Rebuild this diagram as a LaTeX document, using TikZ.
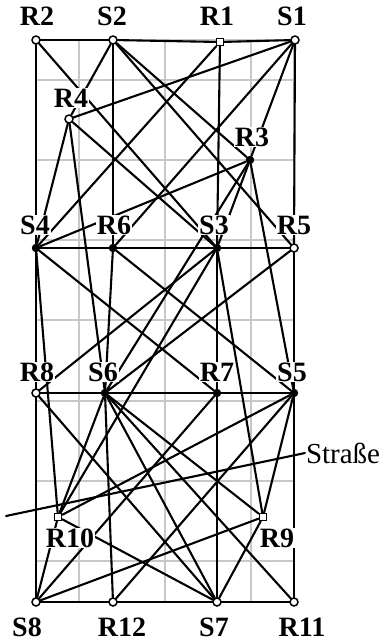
\documentclass[tikz,border=0pt]{standalone}
\usepackage{fontspec}
\setmainfont{Liberation Serif}
\definecolor{gridline}{HTML}{C8C8C8}
\definecolor{ink}{HTML}{000000}

\begin{document}
\begin{tikzpicture}[x=1pt,y=-1pt,
  link/.style={draw=ink, line width=2.1pt, line cap=round},
  open/.style={circle, draw=ink, line width=1.5pt, fill=white, inner sep=0pt, minimum size=8pt},
  full/.style={circle, fill=ink, inner sep=0pt, minimum size=8.5pt},
  box/.style={rectangle, draw=ink, line width=1.5pt, fill=white, inner sep=0pt, minimum size=7pt},
  lab/.style={fill=white, inner sep=0.8pt, font=\fontsize{28}{28}\selectfont\bfseries}]
\newcommand{\mklabel}[3]{\node[lab] (l#1) at (#2,#3) {#1};}
\useasboundingbox (0,0) rectangle (391,641);
\foreach \gx in {36,79,165,251,294}
  \draw[gridline, line width=2pt] (\gx,40) -- (\gx,602);
\foreach \gy in {40,80,160,240,320,401,481,561,602}
  \draw[gridline, line width=2pt] (36,\gy) -- (294,\gy);
% stations
\foreach \n/\x/\y in {R2/36/40, S2/113/40, S1/295/40, R4/69/119, R5/294/248,
    R8/36/393, S8/36/602, R12/113/602, S7/217/602, R11/294/602}
  \node[open] (\n) at (\x,\y) {};
\foreach \n/\x/\y in {R3/250/160, S4/36/248, R6/113/248, S3/217/248,
    S6/105/393, R7/217/393, S5/294/393}
  \node[full] (\n) at (\x,\y) {};
\foreach \n/\x/\y in {R1/220/42, R10/58/517, R9/263/517}
  \node[box] (\n) at (\x,\y) {};
% links
\foreach \a/\b in {R2/S2, S2/R1, R1/S1, R2/S4, R2/S3,
    S2/R4, S2/R6, S2/R3, S2/R5, R1/S4, R1/S3,
    S1/R4, S1/R6, S1/R3, S1/R5, R4/S4, R4/S6, R4/S3,
    R3/S4, R3/S6, R3/S3, R3/S5,
    S4/R6, R6/S3, S3/R5, S4/R8, S4/R10, S4/R7, R6/S6, R6/S5,
    S3/R7, S3/R8, S3/R10, S3/R9, R5/S5, R5/S6,
    R8/S6, S6/R7, R7/S5, R8/S8, R8/S7,
    S6/R10, S6/R12, S6/S7, S6/R11, S6/R9, R7/S7, R7/S8,
    S5/R11, S5/R10, S5/R12, S5/R9,
    S8/R12, R12/S7, S7/R11, S8/R10, S8/R9, R10/S7, S7/R9}
  \draw[link] (\a) -- (\b);
% names
\mklabel{R2}{37}{16} \mklabel{S2}{112}{16} \mklabel{R1}{217}{16} \mklabel{S1}{292}{16}
\mklabel{R4}{71}{98} \mklabel{R3}{252}{137}
\mklabel{S4}{35}{225} \mklabel{R6}{114}{225} \mklabel{S3}{214}{225} \mklabel{R5}{294}{225}
\mklabel{R8}{37}{372} \mklabel{S6}{103}{372} \mklabel{R7}{217}{372} \mklabel{S5}{292}{372}
\mklabel{R10}{70}{538} \mklabel{R9}{277}{538}
\mklabel{S8}{27}{627} \mklabel{R12}{122}{627} \mklabel{S7}{214}{627} \mklabel{R11}{302}{627}
\coordinate (roadend) at (6,516);
\node[anchor=west, inner sep=0.8pt, font=\fontsize{29}{29}\selectfont] (road) at (305,453) {Straße};
\draw[link] (roadend) -- (road.west);
\end{tikzpicture}
\end{document}
